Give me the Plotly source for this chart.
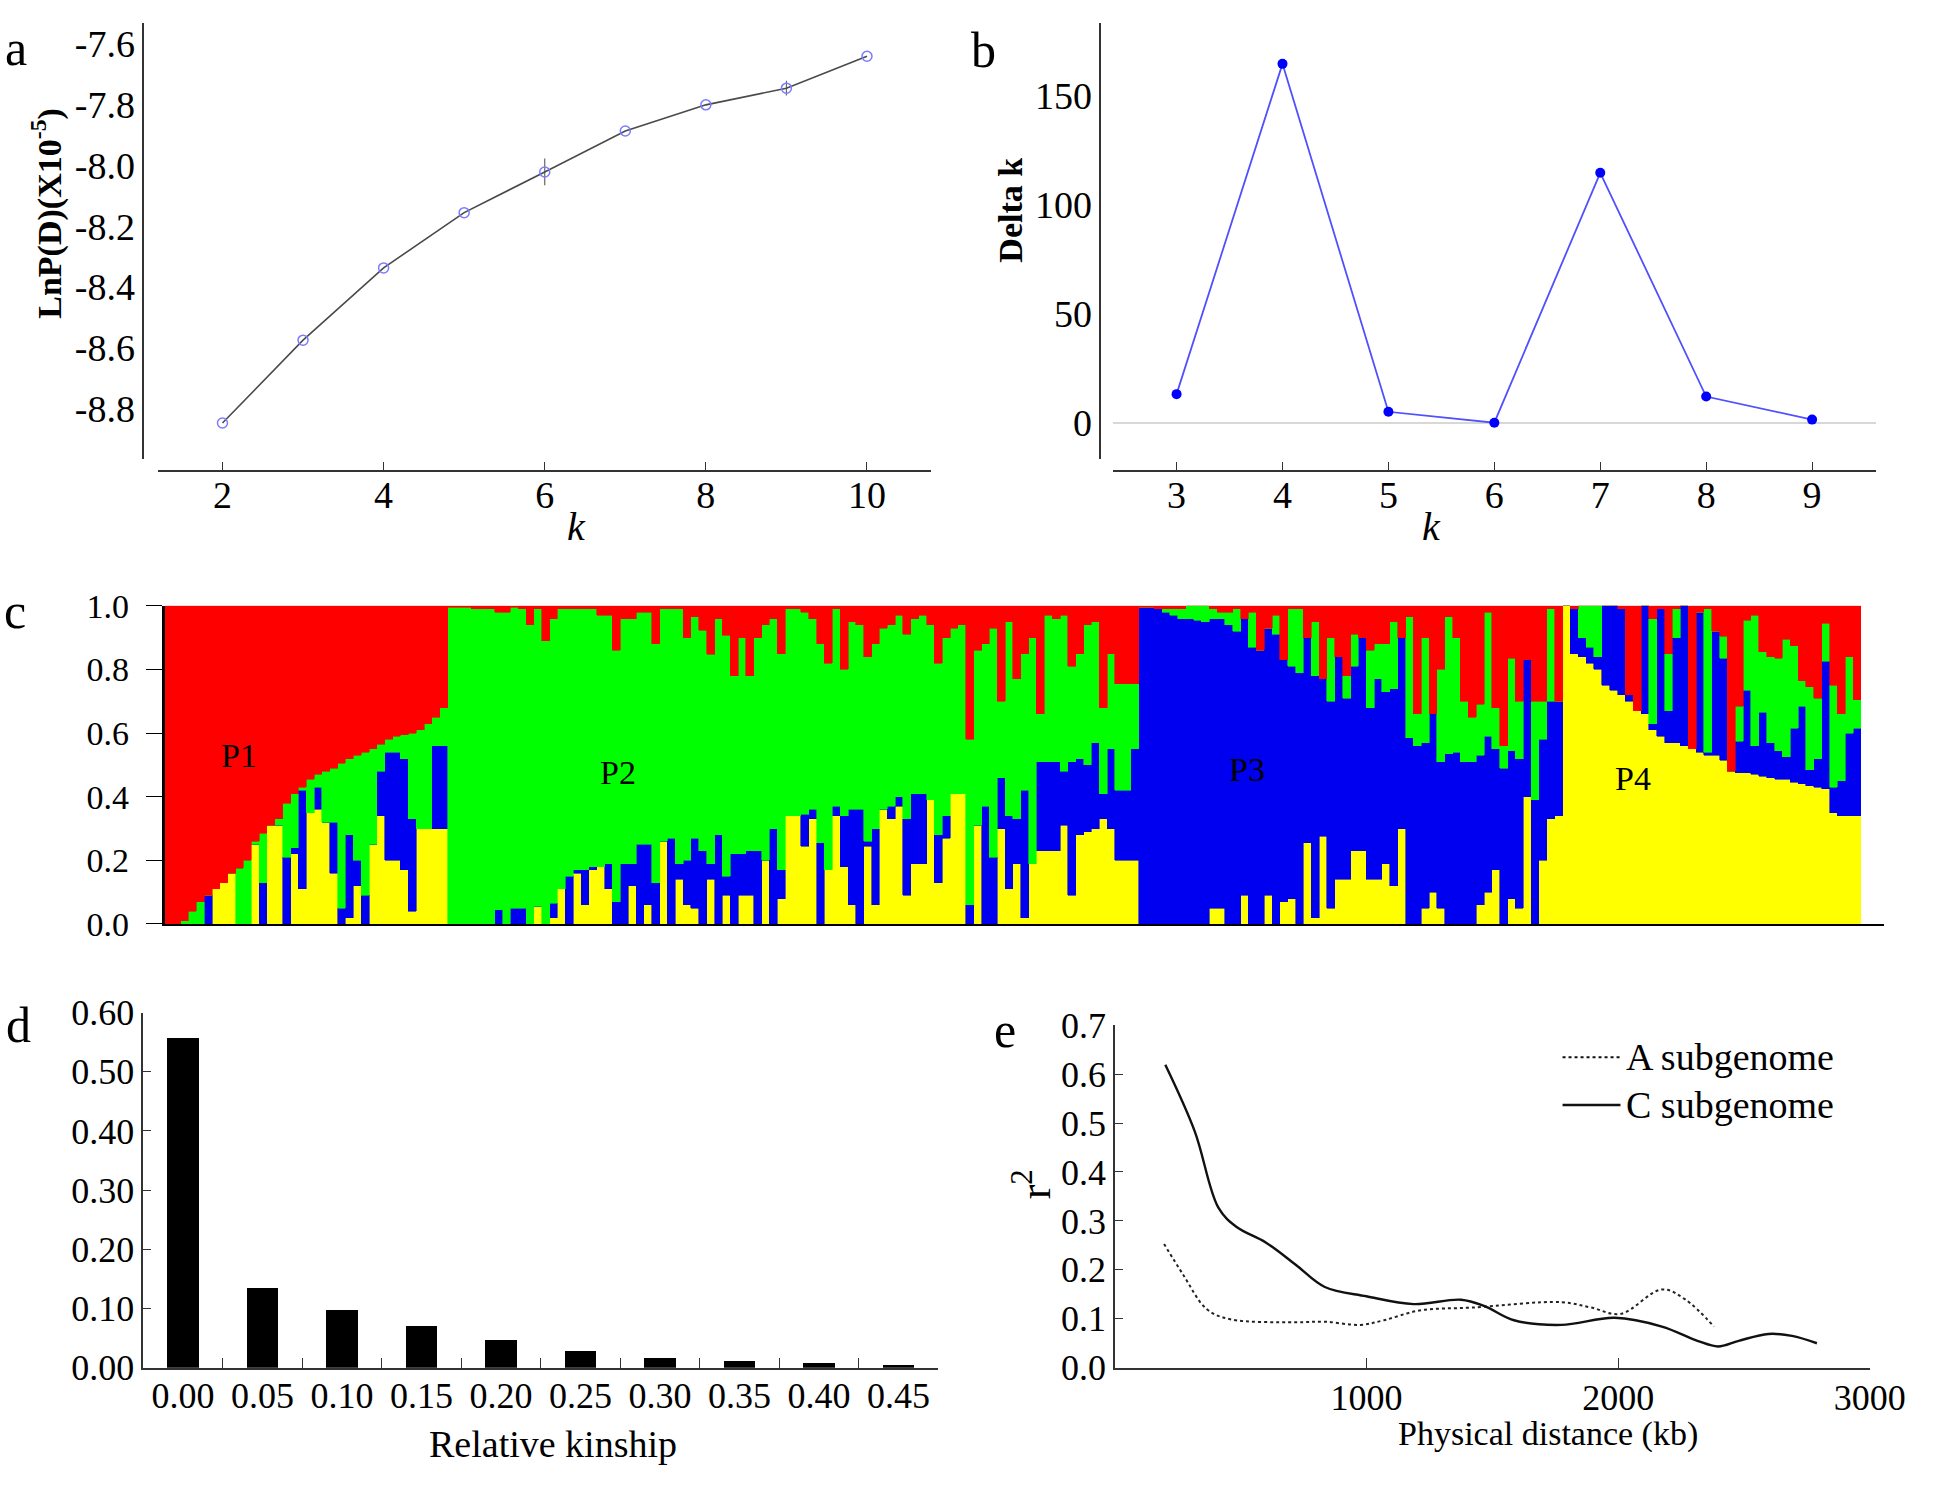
import plotly.graph_objects as go

W, H = 1946, 1487
FONT = "Liberation Serif, Times New Roman, serif"

# ---- panel a: LnP(D) against k
k_a = [2, 3, 4, 5, 6, 7, 8, 9, 10]
lnp = [-8.848, -8.575, -8.337, -8.155, -8.021, -7.886, -7.800, -7.745, -7.640]
lnp_err = [0, 0, 0, 0, 0.044, 0, 0, 0.024, 0]

# ---- panel b: Delta k
k_b = [3, 4, 5, 6, 7, 8, 9]
delta_k = [13.1, 164.7, 5.0, 0.0, 114.7, 12.0, 1.4]

# ---- panel c: membership per accession (yellow, blue, green; red is the rest)
p1_yellow = [0, 0, 0, 0, 0, 0, 0.11, 0.13, 0.16, 0, 0, 0.25, 0, 0.31, 0.31, 0, 0.22, 0.11,
             0.35, 0.36, 0.32, 0.16, 0, 0.02, 0.12, 0, 0.25, 0.34, 0.2, 0.2, 0.17, 0.04, 0.30, 0.30, 0.30, 0.30]
p1_blue = [0, 0, 0, 0, 0, 0.09, 0, 0, 0, 0, 0, 0, 0.13, 0, 0, 0.21, 0.02, 0.31,
           0, 0.07, 0, 0.16, 0.05, 0.26, 0.08, 0.09, 0, 0.14, 0.34, 0.34, 0.35, 0.29, 0, 0, 0.26, 0.26]
p1_green = [0, 0, 0.01, 0.04, 0.07, 0, 0, 0, 0, 0.175, 0.20, 0.01, 0.155, 0, 0.02, 0.17, 0.17, 0.01,
            0.105, 0.04, 0.16, 0.17, 0.455, 0.24, 0.33, 0.45, 0.30, 0.085, 0.04, 0.05, 0.075, 0.27, 0.31, 0.33, 0.09, 0.12]

p2_yellow = [0, 0, 0, 0, 0, 0, 0, 0, 0, 0, 0, 0.056, 0, 0.02, 0.11, 0, 0.16, 0.06, 0.17, 0.18,
             0.11, 0, 0, 0.12, 0, 0.06, 0, 0.26, 0, 0.14, 0.06, 0.05, 0, 0.14, 0, 0.09, 0, 0.09, 0.09, 0,
             0.20, 0, 0.08, 0.34, 0.34, 0.245, 0.33, 0, 0.17, 0.34, 0.18, 0.06, 0, 0.245, 0.06, 0.36, 0.33, 0.37, 0.09, 0.19,
             0.19, 0.39, 0.13, 0.27, 0.41, 0.41, 0, 0.31, 0, 0, 0.30, 0.11, 0.19, 0.02, 0.19, 0.23, 0.23, 0.23, 0.31, 0.09,
             0.28, 0.29, 0.30, 0.33, 0.30, 0.20, 0.20, 0.20]
p2_blue = [0, 0, 0, 0, 0, 0, 0.045, 0, 0.05, 0.05, 0, 0, 0, 0.045, 0, 0.15, 0.01, 0.11, 0.01, 0,
           0.08, 0.07, 0.19, 0.07, 0.25, 0.19, 0.13, 0, 0.27, 0.05, 0.14, 0.22, 0.23, 0.05, 0.28, 0.06, 0.22, 0.13, 0.14, 0.23,
           0, 0.30, 0.09, 0, 0, 0.10, 0.03, 0.255, 0, 0.03, 0.16, 0.30, 0.36, 0.015, 0.24, 0, 0.04, 0.03, 0.24, 0.22,
           0.22, 0, 0.15, 0.07, 0, 0, 0.06, 0, 0.37, 0.21, 0.16, 0.23, 0.14, 0.40, 0, 0.28, 0.28, 0.28, 0.17, 0.42,
           0.24, 0.21, 0.27, 0.08, 0.25, 0.22, 0.22, 0.35]
p2_green = [0.995, 0.995, 0.995, 0.99, 0.99, 0.99, 0.935, 0.98, 0.945, 0.94, 0.94, 0.934, 0.89, 0.895, 0.88, 0.84, 0.82, 0.82, 0.81, 0.79,
            0.78, 0.79, 0.77, 0.77, 0.73, 0.73, 0.75, 0.73, 0.72, 0.80, 0.70, 0.695, 0.693, 0.657, 0.679, 0.758, 0.56, 0.68, 0.55, 0.67,
            0.74, 0.66, 0.68, 0.65, 0.65, 0.635, 0.60, 0.625, 0.65, 0.62, 0.46, 0.59, 0.58, 0.58, 0.58, 0.57, 0.57, 0.57, 0.58, 0.55,
            0.56, 0.55, 0.54, 0.56, 0.52, 0.53, 0.52, 0.55, 0.51, 0.72, 0.24, 0.61, 0.44, 0.43, 0.71, 0.15, 0.46, 0.45, 0.49, 0.30,
            0.33, 0.44, 0.38, 0.27, 0.30, 0.335, 0.335, 0.205]

p3_yellow = [0, 0, 0, 0, 0, 0, 0, 0, 0, 0.05, 0.05, 0, 0, 0.09, 0, 0, 0.09, 0, 0.07, 0.08,
             0, 0.255, 0.02, 0.275, 0.05, 0.14, 0.14, 0.23, 0.23, 0.14, 0.14, 0.19, 0.12, 0.30, 0, 0, 0.05, 0.10, 0.05, 0,
             0, 0, 0, 0.06, 0.10, 0.17, 0, 0.08, 0.05, 0.40, 0, 0.20, 0.33, 0.34]
p3_blue = [0.995, 0.995, 0.99, 0.98, 0.97, 0.96, 0.96, 0.955, 0.95, 0.91, 0.91, 0.94, 0.92, 0.87, 0.87, 0.86, 0.84, 0.91, 0.76, 0.73,
           0.79, 0.645, 0.76, 0.495, 0.65, 0.70, 0.57, 0.58, 0.67, 0.54, 0.63, 0.54, 0.62, 0.60, 0.585, 0.56, 0.52, 0.56, 0.46, 0.535,
           0.54, 0.51, 0.51, 0.47, 0.49, 0.38, 0.49, 0.465, 0.47, 0.43, 0.39, 0.38, 0.37, 0.36]
p3_green = [0, 0, 0, 0.01, 0.02, 0.03, 0.04, 0.045, 0.05, 0.03, 0.02, 0.04, 0.07, 0, 0.11, 0, 0, 0.06, 0, 0.18,
            0.20, 0, 0.17, 0, 0.20, 0, 0.07, 0.10, 0, 0.18, 0.11, 0.15, 0.21, 0, 0.38, 0.10, 0.33, 0, 0.29, 0.43,
            0.36, 0.19, 0.14, 0.16, 0.39, 0.13, 0.07, 0.29, 0.18, 0, 0.31, 0.12, 0.29, 0]

p4_yellow = [1.0, 0.85, 0.84, 0.82, 0.80, 0.75, 0.735, 0.72, 0.70, 0.67, 0.66, 0.61, 0.59, 0.57, 0.57, 0.56, 0.55, 0.54, 0.53, 0.53,
             0.515, 0.48, 0.475, 0.475, 0.47, 0.465, 0.46, 0.455, 0.455, 0.445, 0.44, 0.435, 0.43, 0.425, 0.35, 0.34, 0.34, 0.34]
p4_blue = [0, 0.14, 0.06, 0.05, 0.04, 0.25, 0.265, 0.27, 0.02, 0, 0.34, 0.02, 0.40, 0.10, 0.33, 0.44, 0, 0.44, 0.01, 0.39,
           0.32, 0, 0.10, 0.26, 0.09, 0.20, 0.11, 0.09, 0.07, 0.17, 0.245, 0.05, 0.09, 0.40, 0.08, 0.11, 0.26, 0.275]
p4_green = [0, 0, 0.10, 0.13, 0.16, 0, 0, 0, 0, 0, 0, 0.33, 0, 0.18, 0.09, 0, 0, 0, 0.45, 0,
            0.07, 0, 0.11, 0.22, 0.41, 0.19, 0.27, 0.29, 0.37, 0.26, 0.08, 0.26, 0.19, 0.12, 0.32, 0.21, 0.24, 0.09]
pop_labels = ["P1", "P2", "P3", "P4"]

# ---- panel d: relative kinship distribution
kin_bins = ["0.00", "0.05", "0.10", "0.15", "0.20", "0.25", "0.30", "0.35", "0.40", "0.45"]
kin_freq = [0.557, 0.134, 0.0975, 0.0707, 0.0466, 0.028, 0.016, 0.012, 0.0086, 0.0043]

# ---- panel e: LD decay
dist_a = [195, 270, 364, 458, 717, 834, 975, 1069, 1210, 1422, 1774, 1892, 2009, 2174, 2268, 2381]
r2_a = [0.253, 0.191, 0.12, 0.099, 0.093, 0.094, 0.0875, 0.097, 0.117, 0.123, 0.134, 0.123, 0.110, 0.16, 0.139, 0.084]
dist_c = [200, 317, 411, 482, 599, 717, 834, 999, 1187, 1375, 1469, 1586, 1774, 1986, 2174, 2315, 2397, 2479, 2597, 2691, 2790]
r2_c = [0.619, 0.483, 0.327, 0.288, 0.256, 0.211, 0.165, 0.146, 0.130, 0.139, 0.126, 0.097, 0.0875, 0.102, 0.084, 0.055,
        0.0434, 0.055, 0.069, 0.065, 0.05]
ld_names = ["A subgenome", "C subgenome"]


def fx(px):
    return px / W


def fy(py):
    return 1 - py / H


fig = go.Figure()

# a
fig.add_trace(go.Scatter(
    x=k_a, y=lnp, mode="lines+markers", xaxis="x", yaxis="y", showlegend=False,
    line=dict(color="#4a4a4a", width=1.6),
    marker=dict(symbol="circle-open", size=10, color="#7b7bff", line=dict(width=1.5)),
    error_y=dict(type="data", array=lnp_err, color="#666666", thickness=1.2, width=0),
))

# b
fig.add_trace(go.Scatter(
    x=k_b, y=delta_k, mode="lines+markers", xaxis="x2", yaxis="y2", showlegend=False,
    line=dict(color="#5050ff", width=1.8),
    marker=dict(symbol="circle", size=10, color="#0000ff"),
))

# c
yellow = p1_yellow + p2_yellow + p3_yellow + p4_yellow
blue = p1_blue + p2_blue + p3_blue + p4_blue
green = p1_green + p2_green + p3_green + p4_green
red = [max(0.0, round(1 - a - b - c, 4)) for a, b, c in zip(yellow, blue, green)]
idx = list(range(len(yellow)))
for vals, col in [(yellow, "#ffff00"), (blue, "#0000f0"), (green, "#00ff00"), (red, "#ff0000")]:
    fig.add_trace(go.Bar(
        x=idx, y=vals, width=1, xaxis="x3", yaxis="y3", showlegend=False,
        marker=dict(color=col, line=dict(width=0.6, color=col)),
    ))

# d
fig.add_trace(go.Bar(
    x=kin_bins, y=kin_freq, width=0.4, xaxis="x4", yaxis="y4", showlegend=False,
    marker=dict(color="black", line=dict(width=0)),
))

# e
fig.add_trace(go.Scatter(
    x=dist_a, y=r2_a, mode="lines", name=ld_names[0], xaxis="x5", yaxis="y5", showlegend=False,
    line=dict(color="#222222", width=2, dash="dot", shape="spline"),
))
fig.add_trace(go.Scatter(
    x=dist_c, y=r2_c, mode="lines", name=ld_names[1], xaxis="x5", yaxis="y5", showlegend=False,
    line=dict(color="#111111", width=2.4, shape="spline"),
))

tick_ab = dict(family=FONT, size=38, color="black")
tick_de = dict(family=FONT, size=36, color="black")
common = dict(showgrid=False, zeroline=False, showline=True, linecolor="#333333", tickcolor="#333333")

fig.update_layout(
    width=W, height=H, autosize=False,
    margin=dict(l=0, r=0, t=0, b=0),
    paper_bgcolor="white", plot_bgcolor="white",
    barmode="stack", showlegend=False,
    font=dict(family=FONT, color="black"),
    # a
    xaxis=dict(common, domain=[fx(161), fx(949)], range=[1.2, 10.8], anchor="free", position=fy(465),
               linewidth=2, ticks="inside", ticklen=8, tickvals=[2, 4, 6, 8, 10], tickfont=tick_ab,
               ticklabelstandoff=-10),
    yaxis=dict(common, domain=[fy(452), fy(4)], range=[-8.966, -7.53], anchor="free", position=fx(146),
               linewidth=1.5, ticks="", tickvals=[-8.8, -8.6, -8.4, -8.2, -8.0, -7.8, -7.6],
               ticktext=["-8.8", "-8.6", "-8.4", "-8.2", "-8.0", "-7.8", "-7.6"], tickfont=tick_ab),
    # b
    xaxis2=dict(common, domain=[fx(1134), fx(1911)], range=[2.4, 9.6], anchor="free", position=fy(465),
                linewidth=2, ticks="inside", ticklen=8, tickvals=k_b, tickfont=tick_ab, ticklabelstandoff=-10),
    yaxis2=dict(common, domain=[fy(452), fy(4)], range=[-16.6, 183.5], anchor="free", position=fx(1121),
                linewidth=1.5, ticks="", tickvals=[0, 50, 100, 150], tickfont=tick_ab,
                zeroline=True, zerolinecolor="#d8d8d8", zerolinewidth=2),
    # c
    xaxis3=dict(common, domain=[fx(168), fx(1920)], range=[-0.5, 218.5], anchor="y3",
                linecolor="black", linewidth=2, ticks="", showticklabels=False),
    yaxis3=dict(common, domain=[fy(930), fy(603)], range=[0, 1], anchor="x3",
                linecolor="black", linewidth=3, ticks="outside", ticklen=16, tickcolor="black",
                tickvals=[0, 0.2, 0.4, 0.6, 0.8, 1.0], ticktext=["0.0", "0.2", "0.4", "0.6", "0.8", "1.0"],
                tickfont=dict(family=FONT, size=34, color="black"), ticklabelstandoff=10),
    # d
    xaxis4=dict(common, domain=[fx(146), fx(956)], type="category", anchor="y4", linewidth=2,
                tickson="boundaries", ticks="inside", ticklen=10, tickfont=tick_de, ticklabelstandoff=-5),
    yaxis4=dict(common, domain=[fy(1386), fy(1021)], range=[0, 0.6], anchor="x4", linewidth=1.5,
                ticks="inside", ticklen=8, tickvals=[0, 0.1, 0.2, 0.3, 0.4, 0.5, 0.6], tickformat=".2f",
                tickfont=tick_de),
    # e
    xaxis5=dict(common, domain=[fx(1136), fx(1905)], range=[0, 3000], anchor="y5", linewidth=2,
                ticks="inside", ticklen=10, tickvals=[1000, 2000, 3000], tickfont=tick_de,
                ticklabeloverflow="allow", ticklabelstandoff=-3),
    yaxis5=dict(common, domain=[fy(1386), fy(1034)], range=[0, 0.7], anchor="x5", linewidth=1.5,
                ticks="inside", ticklen=8, tickvals=[0, 0.1, 0.2, 0.3, 0.4, 0.5, 0.6, 0.7], tickformat=".1f",
                tickfont=tick_de),
)

ann = []


def label(text, px, py, size, angle=0, xanchor="center"):
    ann.append(dict(text=text, x=fx(px), y=fy(py), xref="paper", yref="paper", showarrow=False,
                    xanchor=xanchor, yanchor="middle", textangle=angle,
                    font=dict(family=FONT, size=size, color="black")))


# panel letters
for letter, px, py in [("a", 16, 30), ("b", 1002, 32), ("c", 15, 608), ("d", 19, 1034), ("e", 1024, 1039)]:
    label(letter, px, py, 50)
# axis titles
label("<b>LnP(D)(X10<sup>-5</sup>)</b>", 48, 200, 34, -90)
label("<i>k</i>", 587, 522, 40)
label("<b>Delta k</b>", 1030, 196, 34, -90)
label("<i>k</i>", 1458, 522, 40)
label("Relative kinship", 563, 1464, 38)
label("Physical distance (kb)", 1577, 1454, 34)
label("r<sup>2</sup>", 1052, 1198, 44, -90)
# population labels
for lab, px, py in zip(pop_labels, [243, 630, 1270, 1664], [757, 774, 771, 781]):
    label(lab, px, py, 34)
# legend of panel e
shapes = []
for name, dash, py in zip(ld_names, ["dot", "solid"], [1067, 1116]):
    shapes.append(dict(type="line", xref="paper", yref="paper", x0=fx(1592), x1=fx(1651), y0=fy(py), y1=fy(py),
                       line=dict(color="#111111", width=2.4 if dash == "solid" else 2, dash=dash)))
    label(name, 1655, py, 38, xanchor="left")
fig.update_layout(annotations=ann, shapes=shapes)

# keep the page exactly the size of the figure (no body margin, no scrollbars, no modebar)
fig.write_html("out.html", config={"displayModeBar": False},
               post_script="document.body.style.margin='0';document.body.style.overflow='hidden';")
